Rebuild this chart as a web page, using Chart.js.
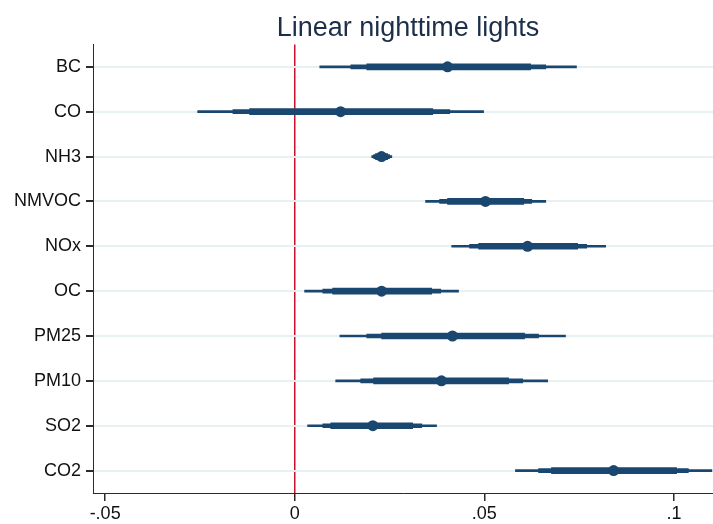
<!DOCTYPE html>
<html>
<head>
<meta charset="utf-8">
<title>Linear nighttime lights</title>
<script src="https://cdn.jsdelivr.net/npm/chart.js@4/dist/chart.umd.min.js"></script>
<style>
  body { margin: 0; background: #fff; }
  #wrap { width: 713px; height: 524px; }
</style>
</head>
<body>
<div id="wrap"><canvas id="coefplot" width="713" height="524"></canvas></div>
<script>
// pollutants, top to bottom
const pollutants = ['BC', 'CO', 'NH3', 'NMVOC', 'NOx', 'OC', 'PM25', 'PM10', 'SO2', 'CO2'];

// point estimates
const estimates = [0.0403, 0.0121, 0.0229, 0.0503, 0.0614, 0.0229, 0.0416, 0.0387, 0.0206, 0.0841];

// confidence bounds: widest (thin), middle, narrowest (thick)
const ciLow99  = [0.0066, -0.0256, 0.0203, 0.0345, 0.0414, 0.0026, 0.0119, 0.0108, 0.0034, 0.0582];
const ciHigh99 = [0.0743,  0.0498, 0.0256, 0.0662, 0.0820, 0.0432, 0.0714, 0.0667, 0.0374, 0.1100];
const ciLow95  = [0.0148, -0.0163, 0.0208, 0.0382, 0.0461, 0.0074, 0.0190, 0.0174, 0.0074, 0.0643];
const ciHigh95 = [0.0662,  0.0409, 0.0250, 0.0625, 0.0770, 0.0385, 0.0643, 0.0601, 0.0335, 0.1038];
const ciLow90  = [0.0190, -0.0119, 0.0213, 0.0403, 0.0485, 0.0100, 0.0229, 0.0208, 0.0095, 0.0677];
const ciHigh90 = [0.0622,  0.0364, 0.0245, 0.0604, 0.0746, 0.0361, 0.0606, 0.0564, 0.0311, 0.1007];

const xTicks = [-0.05, 0, 0.05, 0.1];

const navy = '#1a476f';
const zeroRed = '#c8102e';
const axisColor = '#2a2a2a';

const pairs = (lo, hi) => lo.map((v, i) => [v, hi[i]]);

function ciBar(lo, hi, thickness) {
  return {
    type: 'bar',
    data: pairs(lo, hi),
    backgroundColor: navy,
    borderWidth: 0,
    barThickness: thickness,
    grouped: false
  };
}

// nudge the title a little right of the plot-area centre
const titleNudge = {
  id: 'titleNudge',
  afterLayout(chart) {
    const t = chart.titleBlock;
    if (t) { t.left += 5; t.right += 5; }
  }
};

Chart.defaults.font.family = 'Arial, "Liberation Sans", sans-serif';
Chart.defaults.color = '#111';

new Chart(document.getElementById('coefplot'), {
  data: {
    labels: pollutants,
    datasets: [
      {
        type: 'line',
        data: estimates,
        showLine: false,
        pointRadius: 5.5,
        pointBackgroundColor: navy,
        pointBorderWidth: 0
      },
      ciBar(ciLow90, ciHigh90, 6),
      ciBar(ciLow95, ciHigh95, 4),
      ciBar(ciLow99, ciHigh99, 2)
    ]
  },
  plugins: [titleNudge],
  options: {
    indexAxis: 'y',
    responsive: false,
    animation: false,
    layout: { padding: 0, autoPadding: false },
    plugins: {
      legend: { display: false },
      tooltip: { enabled: false },
      title: {
        display: true,
        text: 'Linear nighttime lights',
        fullSize: false,
        color: '#1c2e4a',
        font: { size: 27, weight: 'normal' },
        padding: { top: 12, bottom: 0 }
      }
    },
    scales: {
      x: {
        type: 'linear',
        min: -0.0532,
        max: 0.1103,
        afterFit: (s) => { s.height = 31; },
        afterBuildTicks: (s) => { s.ticks = xTicks.map(v => ({ value: v })); },
        ticks: {
          includeBounds: false,
          padding: 2,
          color: '#111',
          font: { size: 18 },
          maxRotation: 0,
          callback: (v) => String(+v.toFixed(2)).replace('0.', '.')
        },
        grid: {
          color: (ctx) => (ctx.tick && ctx.tick.value === 0 ? zeroRed : 'rgba(0,0,0,0)'),
          lineWidth: 1.5,
          tickColor: axisColor,
          tickLength: 8
        },
        border: { color: axisColor, width: 1 }
      },
      y: {
        type: 'category',
        offset: true,
        afterFit: (s) => { s.width = 93; },
        ticks: {
          padding: 5,
          color: '#111',
          font: { size: 18 }
        },
        grid: {
          offset: false,
          color: '#e9f0f2',
          lineWidth: 2,
          tickColor: axisColor,
          tickLength: 7
        },
        border: { color: axisColor, width: 1 }
      }
    }
  }
});
</script>
</body>
</html>
